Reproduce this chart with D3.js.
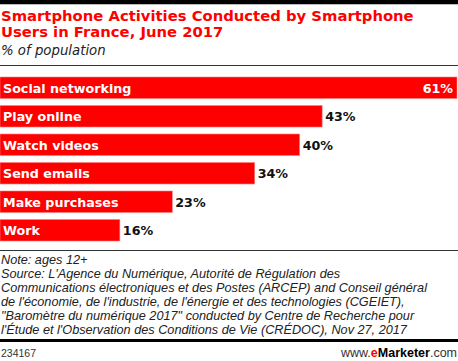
<!DOCTYPE html>
<html>
<head>
<meta charset="utf-8">
<script src="https://cdn.jsdelivr.net/npm/d3@7"></script>
<style>
  body { margin: 0; background: #fff; }
  svg { display: block; font-family: "Liberation Sans", Arial, sans-serif; }
  .title { fill: #ff0000; font-family: "DejaVu Sans", sans-serif; font-weight: bold; font-size: 14.8px; }
  .subtitle { fill: #222; font-family: "DejaVu Sans", sans-serif; font-style: italic; font-size: 13.3px; }
  .cat { fill: #fff; font-family: "DejaVu Sans", sans-serif; font-weight: bold; font-size: 12.7px; }
  .val { fill: #111; font-family: "DejaVu Sans", sans-serif; font-weight: bold; font-size: 12.7px; }
  .note { fill: #222; font-style: italic; font-size: 12.7px; }
  .foot { fill: #333; font-size: 10.5px; }
  .brand { fill: #333; font-size: 12.5px; }
</style>
</head>
<body>
<svg width="458" height="361"></svg>
<script>
const categories = ["Social networking", "Play online", "Watch videos", "Send emails", "Make purchases", "Work"]
const values = [61, 43, 40, 34, 23, 16]

const titleLines = ["Smartphone Activities Conducted by Smartphone", "Users in France, June 2017"]
const noteLines = [
	"Note: ages 12+",
	"Source: L'Agence du Numérique, Autorité de Régulation des",
	"Communications électroniques et des Postes (ARCEP) and Conseil général",
	"de l'économie, de l'industrie, de l'énergie et des technologies (CGEIET),",
	"\"Baromètre du numérique 2017\" conducted by Centre de Recherche pour",
	"l'Étude et l'Observation des Conditions de Vie (CRÉDOC), Nov 27, 2017"
]

const svg = d3.select("svg")

// header rules
svg.append("rect").attr("x", 0).attr("y", 0).attr("width", 458).attr("height", 4).attr("fill", "#000")
svg.append("rect").attr("x", 0).attr("y", 4).attr("width", 458).attr("height", 1).attr("fill", "#bbb")

svg.selectAll("text.title")
	.data(titleLines)
	.enter()
	.append("text")
	.attr("class", "title")
	.attr("x", 1)
	.attr("y", (d, i) => 21 + i * 16)
	.text(d => d)

svg.append("text").attr("class", "subtitle").attr("x", 1).attr("y", 55).text("% of population")
svg.append("rect").attr("x", 0).attr("y", 65).attr("width", 458).attr("height", 1).attr("fill", "#333")

// scales
const x = d3.scaleLinear().domain([0, 61]).range([0, 457])
const y = d3.scaleBand().domain(categories).range([77, 241]).paddingInner(0.245).paddingOuter(0)

const rows = svg.selectAll("g.row")
	.data(categories)
	.enter()
	.append("g")
	.attr("class", "row")
	.attr("transform", d => `translate(0, ${y(d)})`)

rows.append("rect")
	.attr("x", 0)
	.attr("y", 0)
	.attr("width", (d, i) => x(values[i]))
	.attr("height", y.bandwidth())
	.attr("fill", "#ff0000")
	.attr("stroke", "#ff8080")
	.attr("stroke-width", 0.6)

rows.append("text")
	.attr("class", "cat")
	.attr("x", 3)
	.attr("y", y.bandwidth() / 2 + 5)
	.text(d => d)

rows.append("text")
	.attr("class", "val")
	.attr("x", (d, i) => values[i] === d3.max(values) ? x(values[i]) - 4 : x(values[i]) + 3)
	.attr("y", y.bandwidth() / 2 + 5)
	.attr("text-anchor", (d, i) => values[i] === d3.max(values) ? "end" : "start")
	.style("fill", (d, i) => values[i] === d3.max(values) ? "#fff" : null)
	.text((d, i) => values[i] + "%")

// footnotes
svg.append("rect").attr("x", 0).attr("y", 250).attr("width", 458).attr("height", 1).attr("fill", "#333")
svg.selectAll("text.note")
	.data(noteLines)
	.enter()
	.append("text")
	.attr("class", "note")
	.attr("x", 1)
	.attr("y", (d, i) => 264 + i * 14)
	.text(d => d)

svg.append("rect").attr("x", 0).attr("y", 339).attr("width", 458).attr("height", 3).attr("fill", "#000")
svg.append("text").attr("class", "foot").attr("x", 1).attr("y", 357).text("234167")
const brand = svg.append("text").attr("class", "brand").attr("x", 457).attr("y", 357).attr("text-anchor", "end")
brand.append("tspan").text("www.")
brand.append("tspan").attr("fill", "#ff0000").attr("font-weight", "bold").text("e")
brand.append("tspan").attr("fill", "#000").attr("font-weight", "bold").text("Marketer")
brand.append("tspan").text(".com")
</script>
</body>
</html>
